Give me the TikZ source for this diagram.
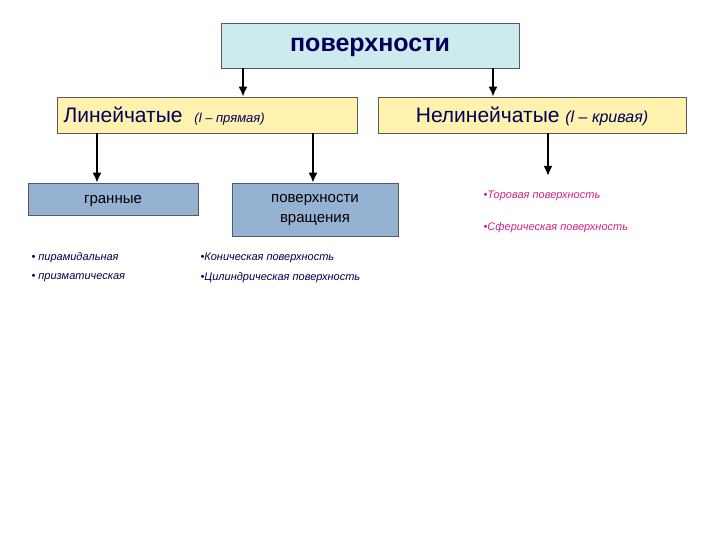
\documentclass[tikz,border=0pt]{standalone}
\usepackage{fontspec}
\setmainfont{Liberation Sans}
\usetikzlibrary{arrows.meta}
\begin{document}
\begin{tikzpicture}[x=1pt,y=-1pt,
 box/.style={draw=gray!70!black,line width=0.6pt,inner sep=0pt},
 arr/.style={line width=2.5pt,-{Latex[length=10pt,width=9pt]}},
 navy/.style={text=blue!35!black},
 item/.style={anchor=west,font=\itshape\fontsize{11}{12}\selectfont,text=blue!30!black},
 pitem/.style={anchor=west,font=\itshape\fontsize{11}{12}\selectfont,text=magenta!70!violet}]
\useasboundingbox (0,0) rectangle (720,540);
\definecolor{cy}{RGB}{205,235,238}
\definecolor{ye}{RGB}{255,242,175}
\definecolor{bl}{RGB}{150,178,210}
\node[box,fill=cy,minimum width=298pt,minimum height=45pt] (top) at (370,45.5) {};
\node[navy,font=\bfseries\fontsize{25}{28}\selectfont] (topt) at (370,47) {поверхности};
\node[box,fill=ye,minimum width=300pt,minimum height=36pt] (lin) at (207,115) {};
\node[navy,anchor=west,font=\fontsize{21}{24}\selectfont] (lint) at (60,116) {Линейчатые \hspace{6pt}{\fontsize{13}{14}\selectfont\itshape (l -- прямая)}};
\node[box,fill=ye,minimum width=308pt,minimum height=36pt] (nl) at (532,115) {};
\node[navy,font=\fontsize{21}{24}\selectfont] (nlt) at (532,116) {Нелинейчатые {\fontsize{16}{18}\selectfont\itshape (l -- кривая)}};
\node[box,fill=bl,minimum width=170pt,minimum height=32pt] (gr) at (113,199) {};
\node[font=\fontsize{15}{17}\selectfont] (grt) at (113,201) {гранные};
\node[box,fill=bl,minimum width=166pt,minimum height=53pt] (vr) at (315,209.5) {};
\node[align=center,font=\fontsize{15}{20}\selectfont] (vrt) at (315,210) {поверхности\\вращения};
\draw[arr] (top.south -| 243,0) -- (lin.north -| 243,0);
\draw[arr] (top.south -| 493,0) -- (nl.north -| 493,0);
\draw[arr] (lin.south -| 97,0) -- (gr.north -| 97,0);
\draw[arr] (lin.south -| 313,0) -- (vr.north -| 313,0);
\coordinate (e) at (548,176);
\draw[arr] (nl.south -| 548,0) -- (e);
\node[pitem] (t1) at (480,196) {•Торовая поверхность};
\node[pitem] (t2) at (480,228) {•Сферическая поверхность};
\node[item] (a1) at (28,258) {• пирамидальная};
\node[item] (a2) at (28,278) {• призматическая};
\node[item] (b1) at (197,258) {•Коническая поверхность};
\node[item] (b2) at (197,278) {•Цилиндрическая поверхность};
\end{tikzpicture}
\end{document}
